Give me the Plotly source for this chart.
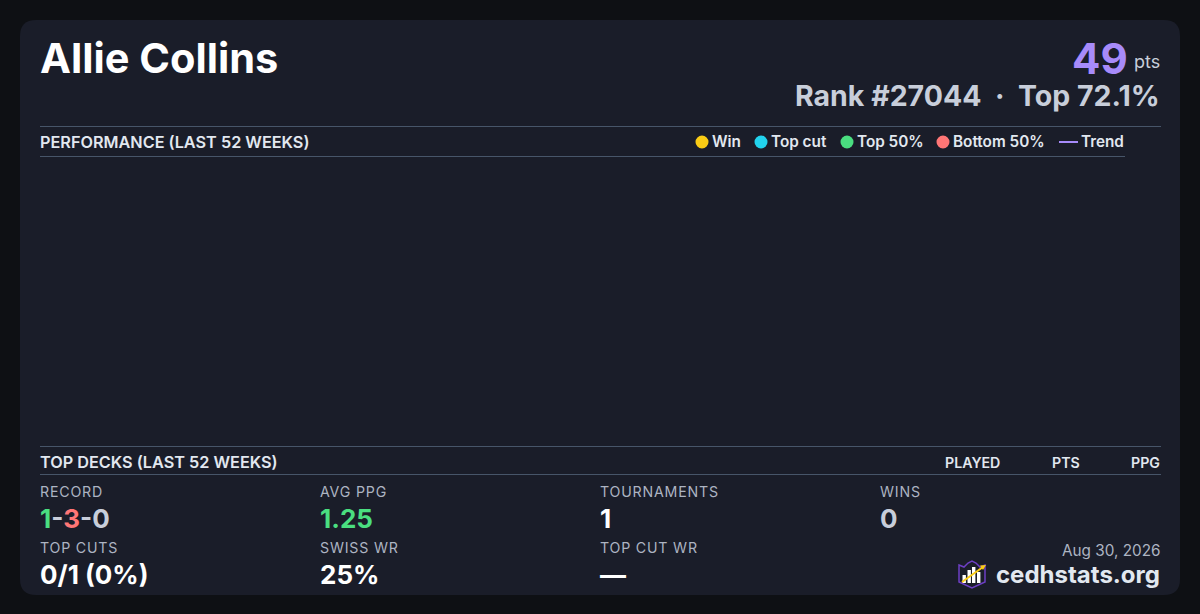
import plotly.graph_objects as go

W, H = 1200, 614
FONT = "Inter"

player = "Allie Collins"
points = "49"
rank_line = "Rank #27044  ·  Top 72.1%"
performance_title = "PERFORMANCE (LAST 52 WEEKS)"
decks_title = "TOP DECKS (LAST 52 WEEKS)"
deck_columns = ["PLAYED", "PTS", "PPG"]
legend_labels = ["Win", "Top cut", "Top 50%", "Bottom 50%"]
legend_colors = ["#facc15", "#22d3ee", "#4ade80", "#ff7676"]
stat_labels = ["RECORD", "AVG PPG", "TOURNAMENTS", "WINS", "TOP CUTS", "SWISS WR", "TOP CUT WR"]
stat_values = ["1-3-0", "1.25", "1", "0", "0/1 (0%)", "25%", "—"]
date_text = "Aug 30, 2026"
site = "cedhstats.org"

BG, CARD, RULE = "#0e1014", "#1a1d29", "#475569"
LABEL, SOFT, BRIGHT, PURPLE = "#adb4c2", "#c8ceda", "#e2e8f0", "#a78bfa"

fx = lambda x: x / W
fy = lambda y: 1 - y / H
annotations, shapes = [], []


def text(x, y, s, size, color, anchor="left", weight=400):
    annotations.append(dict(
        x=fx(x), y=fy(y), xref="paper", yref="paper", text=s, showarrow=False,
        xanchor=anchor, yanchor="middle", align=anchor, borderpad=0, borderwidth=0,
        font=dict(family=FONT, size=size, color=color, weight=weight)))


def rect(x0, y0, x1, y1, color):
    shapes.append(dict(type="rect", xref="paper", yref="paper", x0=fx(x0), x1=fx(x1),
                       y0=fy(y0), y1=fy(y1), fillcolor=color, line_width=0, layer="above"))


def path(points_px, fill=None, line=None, width=1, close=True):
    d = "M" + " L".join(f"{fx(a):.5f},{fy(b):.5f}" for a, b in points_px) + (" Z" if close else "")
    shapes.append(dict(type="path", xref="paper", yref="paper", path=d,
                       fillcolor=fill or "rgba(0,0,0,0)",
                       line=dict(color=line or "rgba(0,0,0,0)", width=width if line else 0),
                       layer="above"))


# card with rounded corners
r = 16
x0, y0, x1, y1 = 20, 20, 1180, 595
d = (f"M{fx(x0+r)},{fy(y0)} L{fx(x1-r)},{fy(y0)} Q{fx(x1)},{fy(y0)} {fx(x1)},{fy(y0+r)} "
     f"L{fx(x1)},{fy(y1-r)} Q{fx(x1)},{fy(y1)} {fx(x1-r)},{fy(y1)} L{fx(x0+r)},{fy(y1)} "
     f"Q{fx(x0)},{fy(y1)} {fx(x0)},{fy(y1-r)} L{fx(x0)},{fy(y0+r)} Q{fx(x0)},{fy(y0)} {fx(x0+r)},{fy(y0)} Z")
shapes.append(dict(type="path", xref="paper", yref="paper", path=d, fillcolor=CARD, line_width=0, layer="below"))

# header
text(40, 58, player, 41.5, "#ffffff", weight=700)
text(1128, 58, points, 42, PURPLE, "right", 700)
text(1160, 61.5, "pts", 18, SOFT, "right")
text(1160, 96, rank_line.replace("  ", "&nbsp;&nbsp;"), 28.5, SOFT, "right", 700)

# rules
rect(40, 126, 1161, 127, RULE)
rect(40, 156, 1125, 157, RULE)
rect(40, 446, 1161, 447, RULE)
rect(40, 474, 1161, 475, RULE)

# performance heading + legend
text(40, 142, performance_title, 16.25, BRIGHT, weight=600)
legend_swatch_x = [702, 761, 847, 943]
legend_text_x = [712, 771, 857, 953]
for sx, tx, lab, col in zip(legend_swatch_x, legend_text_x, legend_labels, legend_colors):
    shapes.append(dict(type="circle", xref="paper", yref="paper", x0=fx(sx-6.5), x1=fx(sx+6.5),
                       y0=fy(148.5), y1=fy(135.5), fillcolor=col, line_width=0, layer="above"))
    text(tx, 141.5, lab, 15.3, BRIGHT, weight=600)
rect(1059, 141, 1078, 143, PURPLE)
text(1081, 141.5, "Trend", 15.3, BRIGHT, weight=600)

# top decks heading
text(40, 462, decks_title, 16.25, BRIGHT, weight=600)
for xr, lab in zip([1000, 1080, 1160], deck_columns):
    text(xr, 462, lab, 14.2, BRIGHT, "right", 600)

# stats
stat_x = [40, 320, 600, 880, 40, 320, 600]
stat_label_y = [491.5, 491.5, 491.5, 491.5, 547.5, 547.5, 547.5]
stat_value_y = [518, 518, 518, 518, 574, 574, 574]
stat_colors = [SOFT, "#4ade80", "#ffffff", SOFT, "#ffffff", "#ffffff", "#ffffff"]
for i, (xp, lab, val) in enumerate(zip(stat_x, stat_labels, stat_values)):
    text(xp, stat_label_y[i], f'<span style="letter-spacing:0.8px">{lab}</span>', 14.2, LABEL)
    if i == 0:
        a, b, c = val.split("-")
        val = (f'<span style="color:#4ade80">{a}</span>-<span style="color:#ff7676">{b}</span>-{c}')
    text(xp, stat_value_y[i], val, 26, stat_colors[i], weight=700)

# footer
text(1161, 550, date_text, 15.3, LABEL, "right")
text(1160, 574, site, 24, BRIGHT, "right", 700)

# logo
path([(959, 565), (964, 567), (968, 563), (972, 561), (976, 563), (980, 567), (985, 565),
      (985, 582), (972, 588), (959, 582)], line="#6d3fc4", width=1.5)
for bx, top in zip([962.5, 967.5, 972, 977], [575, 570, 567, 572]):
    rect(bx, top, bx + 3.4, 583, "#ffffff")
path([(962, 582), (983, 567)], line="#facc15", width=2, close=False)
path([(986, 565), (980, 565.5), (983, 570)], fill="#facc15")

fig = go.Figure()
fig.update_layout(
    width=W, height=H, autosize=False,
    margin=dict(l=0, r=0, t=0, b=0),
    paper_bgcolor=BG, plot_bgcolor=BG, showlegend=False,
    xaxis=dict(visible=False, range=[0, 1]), yaxis=dict(visible=False, range=[0, 1]),
    annotations=annotations, shapes=shapes,
)
fig.write_html("out.html", config={"displayModeBar": False},
               post_script="document.body.style.margin='0';document.body.style.overflow='hidden';")
